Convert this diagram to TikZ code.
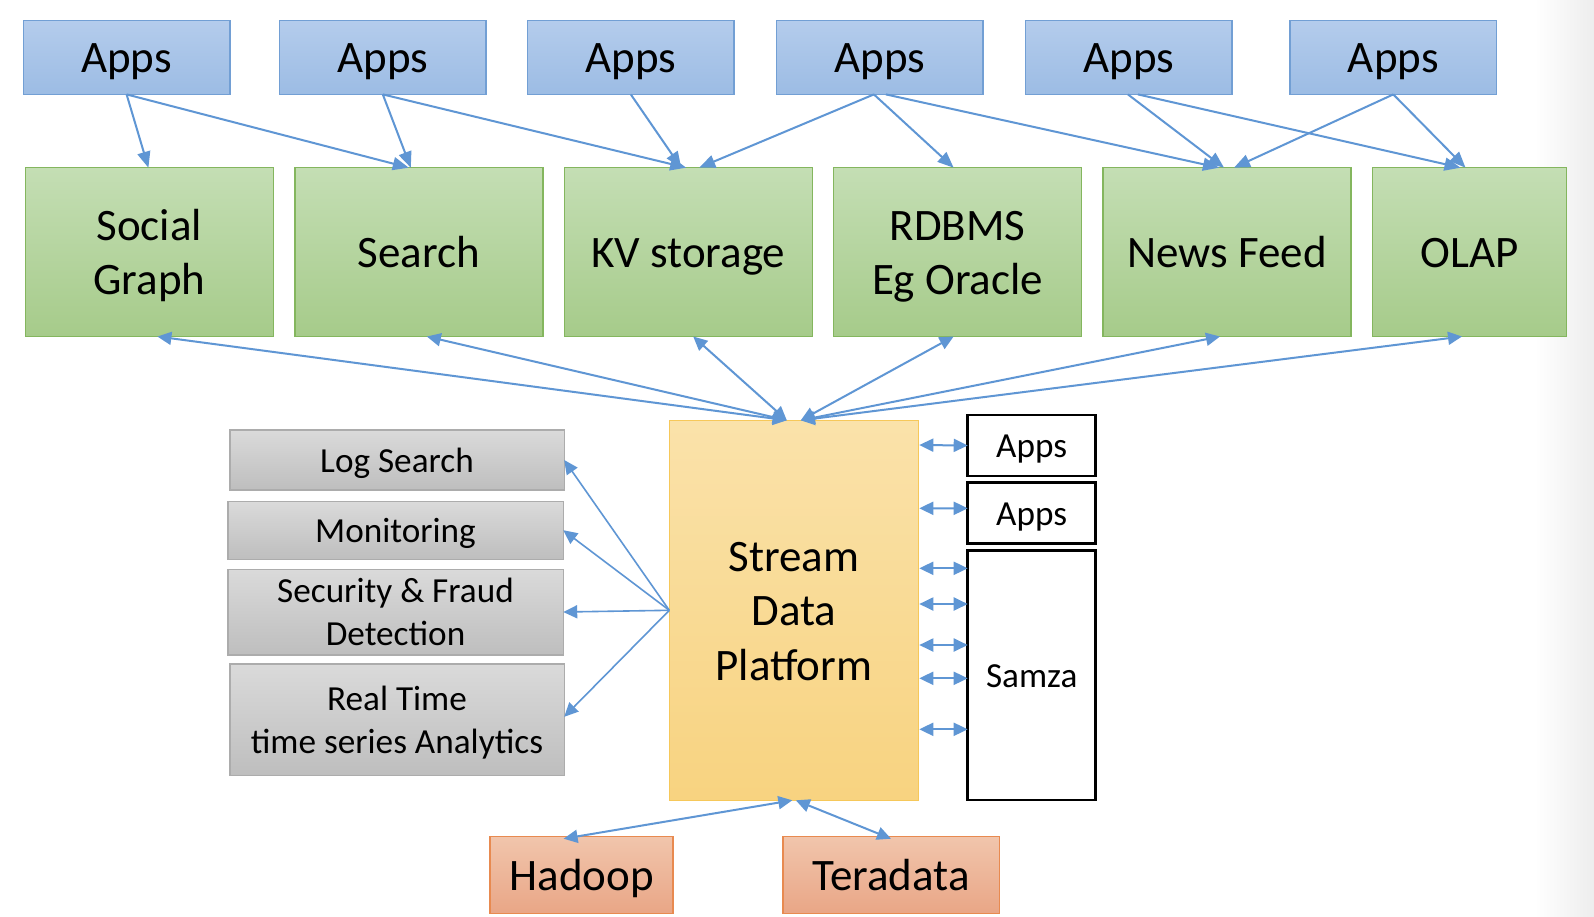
\documentclass[tikz,border=0pt]{standalone}
\usepackage{fontspec}
\setmainfont{Carlito}
\usetikzlibrary{arrows.meta,calc}
\newcommand\myTopStrut{\rule{0pt}{0.952em}}
\newcommand\myBotStrut{\rule[-0.269em]{0pt}{0.269em}}
\definecolor{arr}{RGB}{95,150,212}
\definecolor{blueT}{RGB}{180,204,236}
\definecolor{blueB}{RGB}{156,188,228}
\definecolor{blueD}{RGB}{114,159,212}
\definecolor{greenT}{RGB}{196,222,180}
\definecolor{greenB}{RGB}{166,203,138}
\definecolor{greenD}{RGB}{132,182,94}
\definecolor{yelT}{RGB}{250,226,170}
\definecolor{yelB}{RGB}{248,211,128}
\definecolor{yelD}{RGB}{246,200,90}
\definecolor{grayT}{RGB}{218,218,218}
\definecolor{grayB}{RGB}{190,190,190}
\definecolor{grayD}{RGB}{172,172,172}
\definecolor{orT}{RGB}{241,197,172}
\definecolor{orB}{RGB}{233,166,134}
\definecolor{orD}{RGB}{232,138,80}
\tikzset{
  base/.style={inner sep=0pt, outer sep=0pt, align=center, text=black,
    execute at begin node={\myTopStrut},
    execute at end node={\myBotStrut}},
  big/.style={font=\fontsize{22.5}{27.2}\selectfont},
  small/.style={font=\fontsize{17.6}{21.3}\selectfont},
  appbox/.style={base, big, draw=blueD, line width=0.7pt, top color=blueT, bottom color=blueB, minimum width=103.2pt, minimum height=37pt},
  gbox/.style={base, big, draw=greenD, line width=0.7pt, top color=greenT, bottom color=greenB, minimum width=124pt, minimum height=84.4pt},
  sdpbox/.style={base, big, draw=yelD, line width=0.7pt, top color=yelT, bottom color=yelB, minimum width=124.5pt, minimum height=190pt},
  wbox/.style={base, small, draw=black, line width=1.4pt, fill=white, minimum width=64pt},
  graybox/.style={base, small, draw=grayD, line width=0.7pt, top color=grayT, bottom color=grayB},
  orbox/.style={base, big, draw=orD, line width=0.7pt, top color=orT, bottom color=orB, minimum height=38.3pt},
  ar/.style={arr, line width=1pt, -{Triangle[length=8pt,width=6.5pt]}},
  dar/.style={arr, line width=1pt, {Triangle[length=7pt,width=6.5pt]}-{Triangle[length=7pt,width=6.5pt]}},
  sar/.style={arr, line width=0.8pt, -{Triangle[length=7pt,width=6.5pt]}},
}
\begin{document}
\begin{tikzpicture}[x=0.5pt,y=-0.5pt]
\useasboundingbox (0,0) rectangle (1594,916);
\fill[white] (0,0) rectangle (1594,916);
\shade[left color=white, right color=black!7] (1535,0) rectangle (1594,916);

% top apps
\node[appbox] (a1) at (126.6,57.4) {Apps};
\node[appbox] (a2) at (382.8,57.4) {Apps};
\node[appbox] (a3) at (630.8,57.4) {Apps};
\node[appbox] (a4) at (879.9,57.4) {Apps};
\node[appbox] (a5) at (1128.9,57.4) {Apps};
\node[appbox] (a6) at (1393.3,57.4) {Apps};

% green
\node[gbox] (sg) at (149.4,252.1) {\myTopStrut Social\\Graph\myBotStrut};
\node[gbox] (se) at (418.8,252.1) {Search};
\node[gbox] (kv) at (688.2,252.1) {KV storage};
\node[gbox] (rd) at (957.6,252.1) {\myTopStrut RDBMS\\Eg Oracle\myBotStrut};
\node[gbox] (nf) at (1227,252.1) {News Feed};
\node[gbox, minimum width=97.1pt] (ol) at (1469.5,252.1) {OLAP};

% stream data platform
\node[sdpbox] (sdp) at (793.8,610.3) {\myTopStrut Stream\\Data\\Platform\myBotStrut};

% right boxes
\node[wbox, minimum height=30.5pt] (r1) at (1031.7,445.5) {Apps};
\node[wbox, minimum height=30.5pt] (r2) at (1031.7,513) {Apps};
\node[wbox, minimum height=124.6pt] (samza) at (1031.7,675.3) {Samza};

% gray boxes
\node[graybox, minimum width=167.2pt, minimum height=30pt] (ls) at (397,460) {Log Search};
\node[graybox, minimum width=167.7pt, minimum height=29pt] (mo) at (395.5,530.2) {Monitoring};
\node[graybox, minimum width=167.7pt, minimum height=42.7pt] (sf) at (395.5,612) {\myTopStrut Security \& Fraud\\Detection\myBotStrut};
\node[graybox, minimum width=167.2pt, minimum height=55.9pt] (rt) at (397,719.8) {\myTopStrut Real Time\\time series Analytics\myBotStrut};

% bottom
\node[orbox, minimum width=91.5pt] (hd) at (581.6,875) {Hadoop};
\node[orbox, minimum width=108.2pt] (td) at (891,875) {Teradata};

% top arrows
\draw[ar] (a1.south) -- ($(sg.north)+(-1,0)$);
\draw[ar] (a1.south) -- ($(se.north)+(-10,0)$);
\draw[ar] (a2.south) -- ($(se.north)+(-8,0)$);
\draw[ar] (a2.south) -- ($(kv.north)+(-2,0)$);
\draw[ar] (a3.south) -- ($(kv.north)+(-7,0)$);
\draw[ar] ($(a4.south)+(-6,0)$) -- ($(kv.north)+(11,0)$);
\draw[ar] ($(a4.south)+(-6,0)$) -- ($(rd.north)+(-4,0)$);
\draw[ar] ($(a4.south)+(6,0)$) -- ($(nf.north)+(-8,0)$);
\draw[ar] ($(a5.south)+(-1,0)$) -- ($(nf.north)+(-3,0)$);
\draw[ar] ($(a5.south)+(9,0)$) -- ($(ol.north)+(-9,0)$);
\draw[ar] (a6.south) -- ($(nf.north)+(7,0)$);
\draw[ar] (a6.south) -- ($(ol.north)+(-4,0)$);

% green to SDP
\draw[dar] ($(sg.south)+(8,0)$) -- ($(sdp.north)+(-7,0)$);
\draw[dar] ($(se.south)+(8,0)$) -- ($(sdp.north)+(-7,0)$);
\draw[dar] ($(kv.south)+(5,0)$) -- ($(sdp.north)+(-7,0)$);
\draw[dar] ($(rd.south)+(-4,0)$) -- ($(sdp.north)+(7,0)$);
\draw[dar] ($(nf.south)+(-7,0)$) -- ($(sdp.north)+(7,0)$);
\draw[dar] ($(ol.south)+(-7.5,0)$) -- ($(sdp.north)+(7,0)$);

% left arrows
\draw[sar] (sdp.west) -- (ls.east);
\draw[sar] (sdp.west) -- (mo.east);
\draw[sar] (sdp.west) -- (sf.east);
\draw[sar] (sdp.west) -- ($(rt.east)+(0,-3)$);

% right short arrows
\draw[dar] ($(sdp.north east)+(1,24.7)$) -- (r1.west);
\draw[dar] ($(sdp.north east)+(1,88)$) -- ($(r2.west)+(0,-4.7)$);
\draw[dar] ($(sdp.north east)+(1,148)$) -- ($(samza.north west)+(0,17.6)$);
\draw[dar] ($(sdp.north east)+(1,183.7)$) -- ($(samza.north west)+(0,53.3)$);
\draw[dar] ($(sdp.north east)+(1,224.7)$) -- ($(samza.north west)+(0,94.3)$);
\draw[dar] ($(sdp.north east)+(1,258)$) -- ($(samza.north west)+(0,127.6)$);
\draw[dar] ($(sdp.north east)+(1,309)$) -- ($(samza.north west)+(0,178.6)$);

% bottom arrows
\draw[dar] ($(sdp.south)+(-1.5,0)$) -- ($(hd.north)+(-18,2)$);
\draw[dar] ($(sdp.south)+(2,0)$) -- ($(td.north)+(0,2)$);
\end{tikzpicture}
\end{document}
